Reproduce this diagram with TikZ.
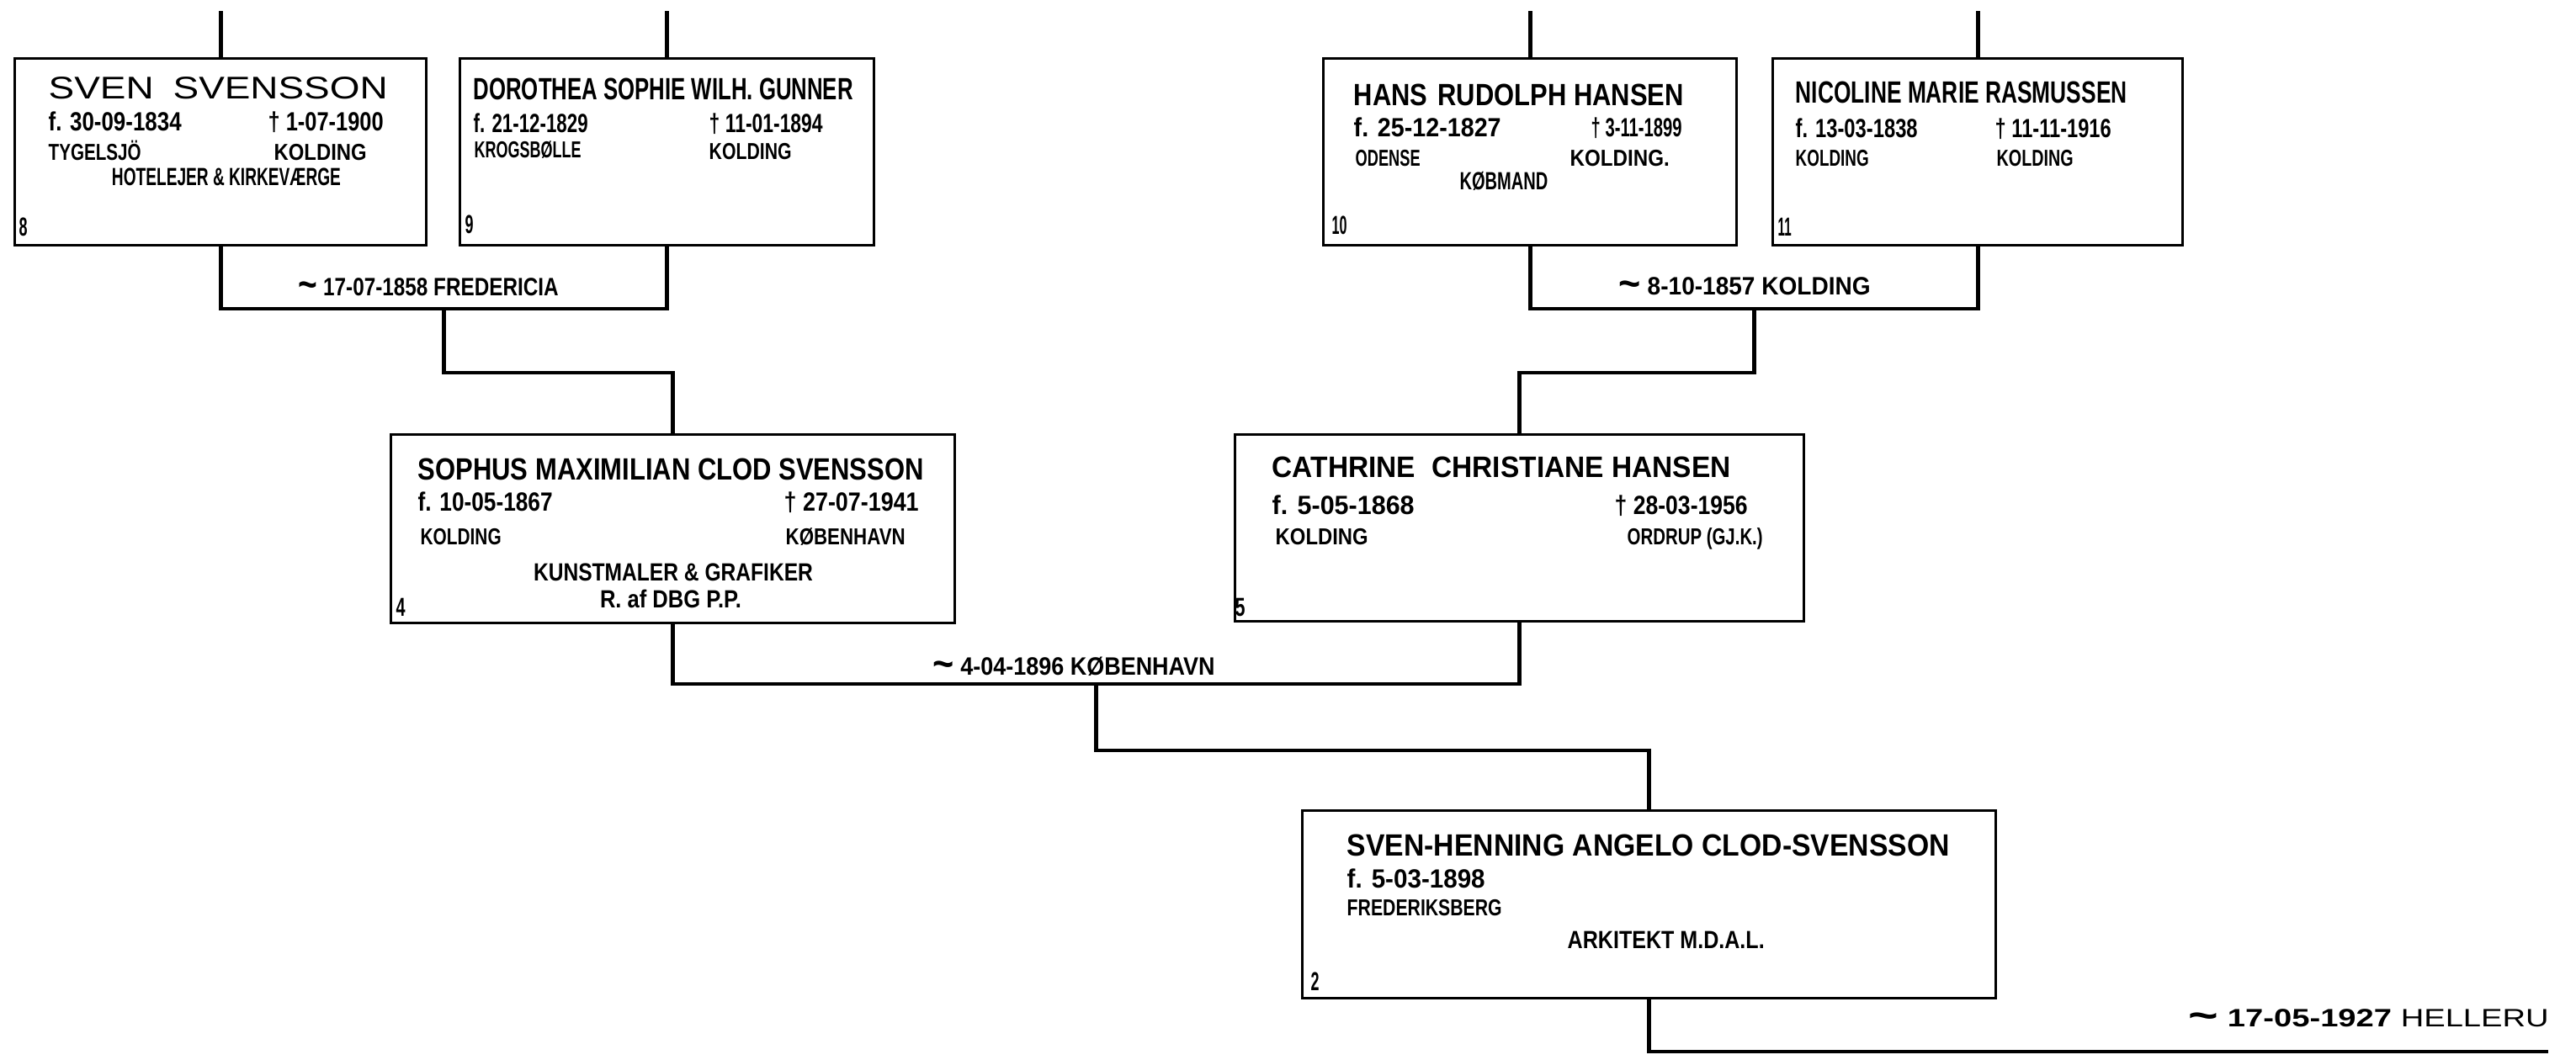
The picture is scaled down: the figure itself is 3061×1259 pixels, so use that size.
\documentclass[tikz,border=0pt]{standalone}
\usepackage{fontspec}
\usepackage{graphicx}
\setmainfont{Liberation Sans}
\usetikzlibrary{calc}
\newlength\pxu
\setlength\pxu{0.01cm}
\newcommand\fitx[2]{\resizebox{#1\pxu}{\height}{#2}}
\newcommand\mtil{\raisebox{-0.12em}{\scalebox{1.6}{\textasciitilde}}}
\tikzset{
  pbox/.style={draw, line width=0.9pt, inner sep=0pt, anchor=north west},
  conn/.style={line width=1.4pt},
  txt/.style={inner sep=0pt, anchor=base west},
  ctxt/.style={inner sep=0pt, anchor=base},
  nmL/.style={font=\fontsize{10.6pt}{11pt}\selectfont},
  nm/.style={font=\fontsize{10.4pt}{11pt}\selectfont\bfseries},
  nmS/.style={font=\fontsize{10pt}{11pt}\selectfont\bfseries},
  dt/.style={font=\fontsize{8.9pt}{9pt}\selectfont\bfseries},
  pl/.style={font=\fontsize{7.8pt}{8pt}\selectfont\bfseries},
  oc/.style={font=\fontsize{8.4pt}{9pt}\selectfont\bfseries},
  nr/.style={font=\fontsize{8.8pt}{9pt}\selectfont\bfseries},
  mar/.style={font=\fontsize{8.5pt}{9pt}\selectfont\bfseries}
}
\begin{document}
\begin{tikzpicture}[x=0.01cm, y=-0.01cm]
\useasboundingbox (0,0) rectangle (3061,1259);

% boxes
\node[pbox, minimum width=489\pxu, minimum height=222\pxu] (b8) at (16,68) {};
\node[pbox, minimum width=492\pxu, minimum height=222\pxu] (b9) at (545,68) {};
\node[pbox, minimum width=491\pxu, minimum height=222\pxu] (b10) at (1571,68) {};
\node[pbox, minimum width=487\pxu, minimum height=222\pxu] (b11) at (2105,68) {};
\node[pbox, minimum width=670\pxu, minimum height=224\pxu] (b4) at (463,515) {};
\node[pbox, minimum width=676\pxu, minimum height=222\pxu] (b5) at (1466,515) {};
\node[pbox, minimum width=824\pxu, minimum height=223\pxu] (b2) at (1546,962) {};

% helper levels
\coordinate (topy) at (0,13);
\coordinate (br1y) at (0,367);
\coordinate (dr1y) at (0,443);
\coordinate (br3y) at (0,813);
\coordinate (dr3y) at (0,892);
\coordinate (endr) at (3028,1250);

% connectors
\draw[conn] (b8.north) -- (b8.north |- topy);
\draw[conn] (b9.north) -- (b9.north |- topy);
\draw[conn] (b10.north) -- (b10.north |- topy);
\draw[conn] (b11.north) -- (b11.north |- topy);

\draw[conn] (b8.south) -- (b8.south |- br1y) -- (b9.south |- br1y) -- (b9.south);
\coordinate (m1) at ($(b8.south |- br1y)!0.5!(b9.south |- br1y)$);
\draw[conn] (m1) -- (m1 |- dr1y) -| (b4.north);

\draw[conn] (b10.south) -- (b10.south |- br1y) -- (b11.south |- br1y) -- (b11.south);
\coordinate (m2) at ($(b10.south |- br1y)!0.5!(b11.south |- br1y)$);
\draw[conn] (m2) -- (m2 |- dr1y) -| (b5.north);

\draw[conn] (b4.south) -- (b4.south |- br3y) -- (b5.south |- br3y) -- (b5.south);
\coordinate (m3) at ($(b4.south |- br3y)!0.5!(b5.south |- br3y)$);
\draw[conn] (m3) -- (m3 |- dr3y) -| (b2.north);

\draw[conn] (b2.south) |- (endr);

% marriage labels
\node[txt,mar] (l1) at (354,351) {\fitx{309}{\mtil\ 17-07-1858 FREDERICIA}};
\node[txt,mar] (l2) at (1923,350) {\fitx{299}{\mtil\ 8-10-1857 KOLDING}};
\node[txt,mar] (l3) at (1108,802) {\fitx{335}{\mtil\ 4-04-1896 KØBENHAVN}};
\node[txt,mar] (l4) at (2600,1220) {\fitx{428}{\mtil\ 17-05-1927 {\mdseries HELLERU}}};

% box 8
\node[txt,nmL] (n8) at (57,117) {\fitx{403}{SVEN\hspace{0.5em}SVENSSON}};
\node[txt,dt] (d8a) at (57,155) {\fitx{158}{f. 30-09-1834}};
\node[txt,dt] (d8b) at (318,155) {\fitx{137}{† 1-07-1900}};
\node[txt,pl] (p8a) at (57,190) {\fitx{110}{TYGELSJÖ}};
\node[txt,pl] (p8b) at (325,190) {\fitx{110}{KOLDING}};
\node[ctxt,oc] (o8) at (269,220) {\fitx{272}{HOTELEJER \& KIRKEVÆRGE}};
\node[txt,nr] (k8) at (22,280) {\fitx{10}{8}};

% box 9
\node[txt,nm] (n9) at (562,118) {\fitx{451}{DOROTHEA SOPHIE WILH. GUNNER}};
\node[txt,dt] (d9a) at (562,157) {\fitx{136}{f. 21-12-1829}};
\node[txt,dt] (d9b) at (842,157) {\fitx{135}{† 11-01-1894}};
\node[txt,pl] (p9a) at (563,187) {\fitx{127}{KROGSBØLLE}};
\node[txt,pl] (p9b) at (842,189) {\fitx{98}{KOLDING}};
\node[txt,nr] (k9) at (552,277) {\fitx{10}{9}};

% box 10
\node[txt,nm] (n10) at (1608,125) {\fitx{392}{HANS\hspace{0.4em}RUDOLPH HANSEN}};
\node[txt,dt] (d10a) at (1608,162) {\fitx{175}{f. 25-12-1827}};
\node[txt,dt] (d10b) at (1890,162) {\fitx{108}{† 3-11-1899}};
\node[txt,pl] (p10a) at (1610,197) {\fitx{77}{ODENSE}};
\node[txt,pl] (p10b) at (1865,197) {\fitx{118}{KOLDING.}};
\node[ctxt,oc] (o10) at (1787,225) {\fitx{105}{KØBMAND}};
\node[txt,nr] (k10) at (1582,278) {\fitx{18}{10}};

% box 11
\node[txt,nm] (n11) at (2133,122) {\fitx{394}{NICOLINE MARIE RASMUSSEN}};
\node[txt,dt] (d11a) at (2133,163) {\fitx{145}{f. 13-03-1838}};
\node[txt,dt] (d11b) at (2370,163) {\fitx{138}{† 11-11-1916}};
\node[txt,pl] (p11a) at (2133,197) {\fitx{87}{KOLDING}};
\node[txt,pl] (p11b) at (2372,197) {\fitx{91}{KOLDING}};
\node[txt,nr] (k11) at (2112,280) {\fitx{16}{11}};

% box 4
\node[txt,nm] (n4) at (496,570) {\fitx{601}{SOPHUS MAXIMILIAN CLOD SVENSSON}};
\node[txt,dt] (d4a) at (496,607) {\fitx{160}{f. 10-05-1867}};
\node[txt,dt] (d4b) at (931,607) {\fitx{160}{† 27-07-1941}};
\node[txt,pl] (p4a) at (499,647) {\fitx{96}{KOLDING}};
\node[txt,pl] (p4b) at (933,647) {\fitx{142}{KØBENHAVN}};
\node[ctxt,oc] (o4a) at (800,690) {\fitx{332}{KUNSTMALER \& GRAFIKER}};
\node[ctxt,oc] (o4b) at (797,722) {\fitx{168}{R. af DBG P.P.}};
\node[txt,nr] (k4) at (470,732) {\fitx{11}{4}};

% box 5
\node[txt,nmS] (n5) at (1511,567) {\fitx{545}{CATHRINE\hspace{0.3em} CHRISTIANE HANSEN}};
\node[txt,dt] (d5a) at (1511,611) {\fitx{169}{f. 5-05-1868}};
\node[txt,dt] (d5b) at (1918,611) {\fitx{158}{† 28-03-1956}};
\node[txt,pl] (p5a) at (1515,647) {\fitx{110}{KOLDING}};
\node[txt,pl] (p5b) at (1933,647) {\fitx{161}{ORDRUP (GJ.K.)}};
\node[txt,nr] (k5) at (1467,732) {\fitx{12}{5}};

% box 2
\node[txt,nm] (n2) at (1600,1017) {\fitx{716}{SVEN-HENNING ANGELO CLOD-SVENSSON}};
\node[txt,dt] (d2) at (1600,1055) {\fitx{164}{f. 5-03-1898}};
\node[txt,pl] (p2) at (1600,1088) {\fitx{184}{FREDERIKSBERG}};
\node[txt,oc] (o2) at (1862,1127) {\fitx{234}{ARKITEKT M.D.A.L.}};
\node[txt,nr] (k2) at (1557,1177) {\fitx{10}{2}};
\end{tikzpicture}
\end{document}
